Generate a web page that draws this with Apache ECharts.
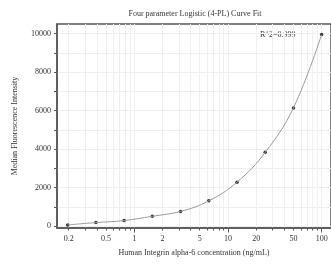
<!DOCTYPE html>
<html><head><meta charset="utf-8">
<script src="https://cdn.jsdelivr.net/npm/echarts@6/dist/echarts.min.js"></script>
<style>html,body{margin:0;padding:0;background:#fff}#c{width:331px;height:266px}</style>
</head><body><div id="c"></div>
<script>
var concentrations = [0.195, 0.39, 0.78, 1.56, 3.125, 6.25, 12.5, 25, 50, 100];
var intensities = [60, 180, 285, 510, 760, 1310, 2280, 3830, 6140, 9950];
var xTickLabels = [0.2, 0.5, 1, 2, 5, 10, 20, 50, 100];
var xMinorTicks = [0.2,0.3,0.4,0.5,0.6,0.7,0.8,0.9,1,2,3,4,5,6,7,8,9,10,20,30,40,50,60,70,80,90,100];
var xDecades = [1, 10, 100];
var yTickLabels = [0, 2000, 4000, 6000, 8000, 10000];
var yMinorTicks = [0,1000,2000,3000,4000,5000,6000,7000,8000,9000,10000];
var rSquaredText = 'R^2=0.999';

var L = function(v){ return Math.log10(v); };
var pts = concentrations.map(function(c,i){ return [L(c), intensities[i]]; });
var font = 'Liberation Serif';
var xmin = L(0.15), xmax = 2.1;

var chart = echarts.init(document.getElementById('c'));
chart.setOption({
  animation: false,
  title: {
    text: 'Four parameter Logistic (4-PL) Curve Fit',
    left: 190, top: 5, textAlign: 'center',
    textStyle: {fontFamily: font, fontSize: 8, fontWeight: 'normal', color: '#333'}
  },
  grid: {left: 57, top: 24, right: -5, bottom: 38, show: true, borderColor: '#555', borderWidth: 1.5},
  xAxis: [{
    type: 'value', min: xmin, max: xmax,
    name: 'Human Integrin alpha-6 concentration (ng/mL)',
    nameLocation: 'middle', nameGap: 21,
    nameTextStyle: {fontFamily: font, fontSize: 8, color: '#333'},
    axisLine: {show: true, onZero: false, lineStyle: {color: '#555', width: 1.5}},
    axisTick: {show: true, length: 2.5, customValues: xMinorTicks.map(L), lineStyle: {color: '#555'}},
    axisLabel: {customValues: xTickLabels.map(L), margin: 7, fontFamily: font, fontSize: 8, color: '#333',
      formatter: function(v){ return String(Math.round(Math.pow(10, v)*10)/10); }},
    splitLine: {show: true, lineStyle: {color: '#efefef', width: 1}}
  },{
    type: 'value', min: xmin, max: xmax, position: 'bottom',
    axisLine: {show: false, onZero: false},
    axisTick: {show: true, length: 4.5, customValues: xDecades.map(L), lineStyle: {color: '#555'}},
    axisLabel: {show: false}, splitLine: {show: false}
  }],
  yAxis: {
    type: 'value', min: -100, max: 10500,
    name: 'Median Fluorescence Intensity',
    nameLocation: 'middle', nameGap: 38,
    nameTextStyle: {fontFamily: font, fontSize: 8, color: '#333'},
    axisLine: {show: true, onZero: false, lineStyle: {color: '#555', width: 1.5}},
    axisTick: {show: true, length: 3, customValues: yMinorTicks, lineStyle: {color: '#555'}},
    axisLabel: {customValues: yTickLabels, margin: 6, fontFamily: font, fontSize: 8, color: '#333',
      formatter: function(v){ return String(v); }},
    splitLine: {show: true, lineStyle: {color: '#efefef', width: 1}}
  },
  graphic: [{
    type: 'text', left: 260, top: 31,
    style: {text: rSquaredText, fontFamily: font, fontSize: 8, fill: '#333'}
  }],
  series: [{
    type: 'line', data: pts, smooth: 0.4,
    showSymbol: false,
    lineStyle: {color: '#9a9a9a', width: 1}
  },{
    type: 'scatter', data: pts, symbol: 'circle', symbolSize: 3.5,
    itemStyle: {color: '#000'}
  }]
});
</script></body></html>
